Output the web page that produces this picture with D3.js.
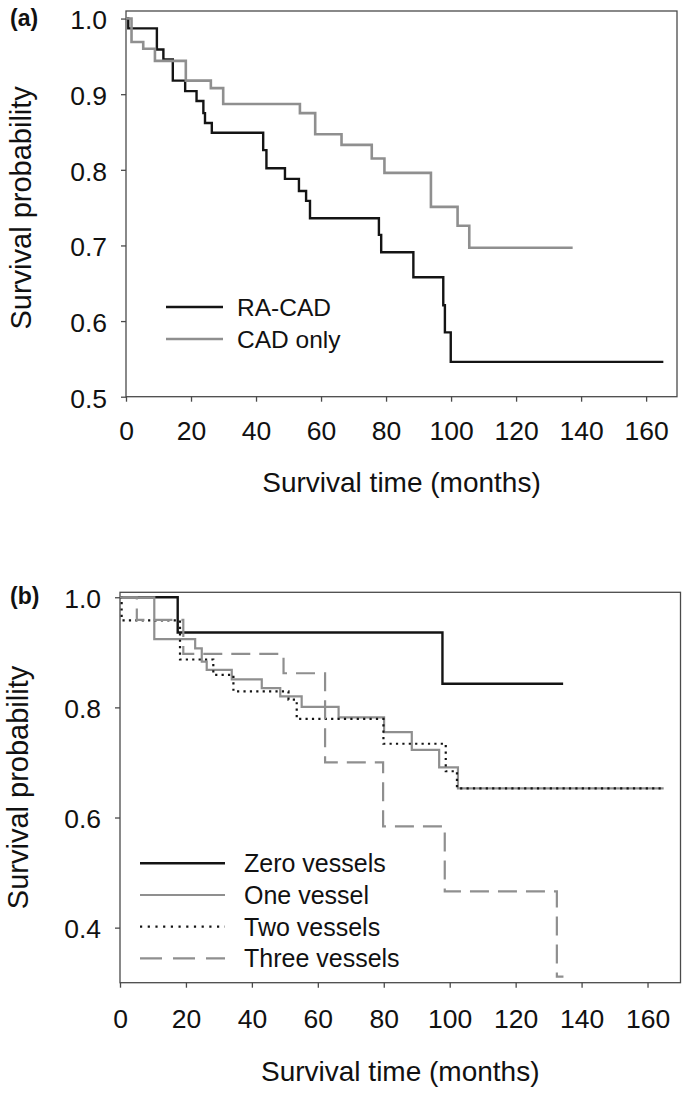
<!DOCTYPE html>
<html>
<head>
<meta charset="utf-8">
<script src="https://cdn.jsdelivr.net/npm/d3@7"></script>
<style>
  html, body { margin: 0; padding: 0; background: #fff; }
  svg { display: block; }
  text { font-family: "Liberation Sans", Arial, sans-serif; fill: #111; }
</style>
</head>
<body>
<svg id="chart" width="685" height="1099"></svg>
<script>
// ---------- DATA (time in months, survival probability) ----------
const xTicks = [0, 20, 40, 60, 80, 100, 120, 140, 160];
const yTicksA = [0.5, 0.6, 0.7, 0.8, 0.9, 1.0];
const yTicksB = [0.4, 0.6, 0.8, 1.0];

// Panel (a)
const raCad = [
  [0, 1.0], [0.7, 0.987], [9.5, 0.959], [11.5, 0.946], [14.4, 0.918], [18.2, 0.904],
  [21.7, 0.891], [23.8, 0.875], [24.3, 0.862], [26.4, 0.849], [42.2, 0.826], [43.2, 0.802],
  [48.9, 0.788], [53.2, 0.772], [55.4, 0.759], [56.6, 0.736], [77.8, 0.714], [78.5, 0.691],
  [88.4, 0.658], [97.6, 0.621], [98.1, 0.585], [99.9, 0.546], [165.3, 0.546]
];
const cadOnly = [
  [0, 1.0], [1.7, 0.969], [5.3, 0.960], [8.9, 0.944], [18.4, 0.918], [26.1, 0.908],
  [29.9, 0.887], [53.5, 0.875], [58.2, 0.847], [66.3, 0.833], [75.6, 0.815], [79.5, 0.796],
  [93.8, 0.751], [102.0, 0.726], [105.6, 0.697], [137.4, 0.697]
];

// Panel (b)
const zeroVessels = [
  [0, 1.0], [17.5, 0.936], [97.8, 0.843], [134.4, 0.843]
];
const oneVessel = [
  [0, 1.0], [10.4, 0.924], [22.8, 0.907], [24.8, 0.883], [26.3, 0.868], [33.9, 0.851],
  [43.0, 0.835], [48.6, 0.820], [55.1, 0.801], [66.3, 0.782], [80.1, 0.755], [88.5, 0.723],
  [96.8, 0.691], [102.5, 0.653], [164.9, 0.653]
];
const twoVessels = [
  [0, 1.0], [0.5, 0.958], [18.2, 0.887], [28.3, 0.859], [34.4, 0.829], [51.1, 0.814],
  [53.6, 0.779], [79.9, 0.734], [98.8, 0.684], [102.2, 0.653], [164.9, 0.653]
];
const threeVessels = [
  [0, 1.0], [5.1, 0.959], [19.2, 0.897], [49.6, 0.862], [62.2, 0.700], [79.8, 0.584],
  [98.5, 0.466], [132.5, 0.311], [134.5, 0.311]
];

const legendA = ["RA-CAD", "CAD only"];
const legendB = ["Zero vessels", "One vessel", "Two vessels", "Three vessels"];

// ---------- DRAWING ----------
const svg = d3.select("#chart");
const BLACK = "#141414", GRAY = "#8f8f8f", AXIS = "#4a4a4a";

function panel(opts) {
  const g = svg.append("g");
  const x = d3.scaleLinear().domain(opts.xDomain).range(opts.xRange);
  const y = d3.scaleLinear().domain(opts.yDomain).range(opts.yRange);

  // frame
  g.append("rect")
    .attr("x", x.range()[0]).attr("y", y.range()[1])
    .attr("width", x.range()[1] - x.range()[0])
    .attr("height", y.range()[0] - y.range()[1])
    .attr("fill", "none").attr("stroke", AXIS).attr("stroke-width", 1.3);

  // axes
  const ax = g.append("g").attr("transform", `translate(0,${y.range()[0]})`)
    .call(d3.axisBottom(x).tickValues(xTicks).tickSize(5).tickPadding(10).tickFormat(d3.format("d")));
  const ay = g.append("g").attr("transform", `translate(${x.range()[0]},0)`)
    .call(d3.axisLeft(y).tickValues(opts.yTicks).tickSize(5).tickPadding(14).tickFormat(d3.format(".1f")));
  [ax, ay].forEach(a => {
    a.select(".domain").remove();
    a.selectAll(".tick line").attr("stroke", AXIS).attr("stroke-width", 1.3);
    a.selectAll(".tick text").attr("font-size", 26.5).attr("fill", "#111")
      .attr("font-family", "'Liberation Sans', Arial, sans-serif");
  });
  ax.selectAll(".tick text").attr("dy", opts.xLabelDy);
  ay.selectAll(".tick text").attr("dy", "0.39em");

  // curves
  const line = d3.line().curve(d3.curveStepAfter).x(d => x(d[0])).y(d => y(d[1]));
  opts.series.forEach(s => {
    g.append("path").datum(s.data)
      .attr("d", line)
      .attr("fill", "none")
      .attr("stroke", s.color)
      .attr("stroke-width", s.width)
      .attr("stroke-dasharray", s.dash || null)
      .attr("stroke-linejoin", "miter");
  });

  // legend
  opts.series.forEach((s, i) => {
    const ly = opts.legend.y0 + i * opts.legend.dy;
    g.append("line")
      .attr("x1", opts.legend.x1).attr("x2", opts.legend.x2)
      .attr("y1", ly).attr("y2", ly)
      .attr("stroke", s.color).attr("stroke-width", s.width)
      .attr("stroke-dasharray", s.legendDash || s.dash || null);
    g.append("text")
      .attr("x", opts.legend.tx).attr("y", ly).attr("dy", "0.36em")
      .attr("font-size", opts.legend.fs)
      .text(s.name);
  });

  // axis titles
  const cx = (x.range()[0] + x.range()[1]) / 2;
  const cy = (y.range()[0] + y.range()[1]) / 2;
  g.append("text")
    .attr("x", cx).attr("y", y.range()[0] + opts.xTitleOffset)
    .attr("text-anchor", "middle").attr("font-size", 28)
    .text("Survival time (months)");
  g.append("text")
    .attr("transform", `translate(${opts.yTitleX},${cy + opts.yTitleShift}) rotate(-90)`)
    .attr("text-anchor", "middle").attr("font-size", 29)
    .text("Survival probability");

  // panel label
  g.append("text")
    .attr("x", opts.label.x).attr("y", opts.label.y)
    .attr("font-size", 23).attr("font-weight", "bold")
    .text(opts.label.text);
}

panel({
  xDomain: [0, 169.5], xRange: [126, 677],
  yDomain: [0.5, 1.01], yRange: [396.7, 11],
  yTicks: yTicksA,
  series: [
    { name: legendA[0], data: raCad, color: BLACK, width: 2.4 },
    { name: legendA[1], data: cadOnly, color: GRAY, width: 2.6 }
  ],
  legend: { x1: 166, x2: 223, tx: 237, y0: 307, dy: 32, fs: 24.5 },
  xLabelDy: "1.07em",
  xTitleOffset: 95,
  yTitleX: 31,
  yTitleShift: 4,
  label: { text: "(a)", x: 10, y: 25.5 }
});

panel({
  xDomain: [0, 170], xRange: [120, 680.5],
  yDomain: [0.3, 1.009], yRange: [982.7, 592.3],
  yTicks: yTicksB,
  series: [
    { name: legendB[0], data: zeroVessels, color: BLACK, width: 2.4 },
    { name: legendB[1], data: oneVessel, color: GRAY, width: 2.2 },
    { name: legendB[2], data: twoVessels, color: BLACK, width: 2.2, dash: "2.2,4.2", legendDash: "2.2,5.5" },
    { name: legendB[3], data: threeVessels, color: GRAY, width: 2.2, dash: "19,9", legendDash: "22,11" }
  ],
  legend: { x1: 140, x2: 225, tx: 244, y0: 863.3, dy: 31.7, fs: 25 },
  xLabelDy: "1.155em",
  xTitleOffset: 98,
  yTitleX: 28,
  yTitleShift: 0,
  label: { text: "(b)", x: 10, y: 604 }
});
</script>
</body>
</html>
